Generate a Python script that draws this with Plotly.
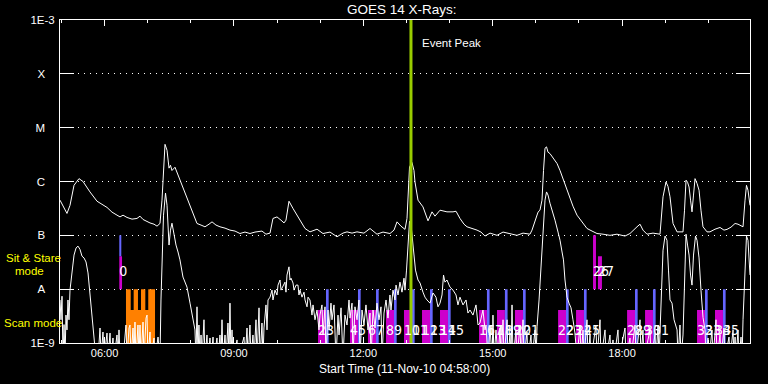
import plotly.graph_objects as go
import pandas as pd

# ---------------- data ----------------
DAY = "2010-11-11 "
START = "2010-11-11 04:58:00"
END = "2010-11-11 20:58:00"
EVENT_PEAK = "2010-11-11 13:06:18"

# long channel (1-8 A), minutes after start time, flux W/m^2
UPPER_MIN = [0, 5.6, 9.7, 13.9, 19.5, 26.4, 32.0, 41.7, 51.5, 65.4, 72.3, 79.3, 83.5, 87.7, 93.2, 100.2,
             107.1, 111.3, 115.5, 125.2, 130.8, 135.0, 139.1, 141.9, 144.0, 146.1, 148.9, 151.7, 153.7,
             155.8, 160.0, 166.9, 173.9, 180.9, 186.4, 190.6, 196.2, 201.7, 207.3, 211.5, 217.0, 222.6,
             229.6, 236.5, 243.5, 250.4, 257.4, 264.3, 271.3, 281.0, 286.6, 292.2, 296.3, 301.9, 307.5,
             311.7, 314.4, 318.6, 324.2, 329.7, 333.9, 340.9, 347.8, 357.6, 365.9, 375.7, 385.4, 393.7,
             399.3, 406.3, 413.2, 422.9, 431.3, 441.0, 449.4, 459.1, 464.7, 468.9, 474.4, 480.0, 482.8,
             484.9, 486.3, 489.7, 492.5, 493.9, 498.1, 505.0, 509.2, 512.0, 517.6, 521.7, 528.7, 538.4,
             546.8, 551.0, 556.5, 562.1, 566.3, 573.2, 580.2, 585.7, 591.3, 598.3, 608.0, 616.4, 626.1,
             635.8, 644.2, 653.9, 656.7, 660.9, 665.1, 667.8, 670.6, 672.7, 674.8, 676.9, 679.0, 681.7,
             685.9, 691.5, 695.7, 699.8, 704.0, 709.6, 713.7, 719.3, 726.3, 733.2, 740.2, 747.1, 755.5,
             765.2, 774.9, 786.1, 793.0, 798.6, 802.8, 807.0, 811.1, 816.7, 825.0, 834.8, 836.9, 839.0,
             843.1, 845.9, 848.7, 850.8, 852.9, 858.5, 866.8, 868.9, 871.0, 873.1, 875.2, 877.3, 879.3,
             881.4, 883.5, 886.3, 889.1, 891.8, 894.6, 900.2, 904.3, 911.3, 918.3, 923.8, 928.0, 933.6,
             939.2, 943.3, 950.3, 953.1, 955.1, 957.2, 958.6, 960.0]
UPPER_FLUX = [4.5e-7, 3.2e-7, 2.55e-7, 3.6e-7, 8.5e-7, 1.13e-6, 1.0e-6, 6.4e-7, 4.3e-7, 3.3e-7, 2.7e-7,
              2.37e-7, 2.2e-7, 2.37e-7, 2.15e-7, 2.0e-7, 2.06e-7, 2.27e-7, 1.97e-7, 1.7e-7, 1.61e-7,
              1.48e-7, 1.66e-7, 4.5e-7, 1.6e-6, 4.9e-6, 3.8e-6, 1.77e-6, 2.0e-6, 1.6e-6, 1.84e-6,
              1.06e-6, 6.1e-7, 3.38e-7, 2.27e-7, 1.66e-7, 1.55e-7, 1.44e-7, 1.61e-7, 1.78e-7, 1.55e-7,
              1.44e-7, 1.36e-7, 1.25e-7, 1.2e-7, 1.08e-7, 1.15e-7, 1.08e-7, 1.15e-7, 1.2e-7, 1.05e-7,
              1.1e-7, 2.06e-7, 2.2e-7, 1.91e-7, 1.7e-7, 1.91e-7, 4.3e-7, 3.15e-7, 2.37e-7, 1.91e-7,
              1.34e-7, 1.16e-7, 1.3e-7, 1.08e-7, 1.15e-7, 0.94e-7, 1.1e-7, 1.16e-7, 1.1e-7, 1.16e-7,
              1.1e-7, 1.34e-7, 1.05e-7, 1.15e-7, 1.08e-7, 1.25e-7, 1.78e-7, 1.48e-7, 1.29e-7, 2.06e-7,
              6.9e-7, 1.86e-6, 2.25e-6, 1.6e-6, 9.8e-7, 4.5e-7, 3.38e-7, 2.47e-7, 1.86e-7, 2.73e-7,
              2.27e-7, 2.93e-7, 2.73e-7, 2.73e-7, 2.8e-7, 2.06e-7, 1.61e-7, 1.44e-7, 1.36e-7, 1.25e-7,
              1.15e-7, 0.97e-7, 1.1e-7, 1.0e-7, 1.15e-7, 1.08e-7, 1.0e-7, 1.1e-7, 1.05e-7, 1.25e-7,
              1.91e-7, 2.7e-7, 2.93e-7, 4.5e-7, 1.6e-6, 4.15e-6, 4.4e-6, 3.5e-6, 3.3e-6, 2.7e-6,
              2.16e-6, 1.6e-6, 1.13e-6, 7.85e-7, 5.2e-7, 3.48e-7, 2.37e-7, 1.76e-7, 1.34e-7, 1.2e-7,
              1.08e-7, 1.05e-7, 1.0e-7, 1.05e-7, 0.97e-7, 1.08e-7, 1.3e-7, 1.44e-7, 1.61e-7, 1.25e-7,
              1.05e-7, 1.1e-7, 1.05e-7, 2.37e-7, 5.2e-7, 9.8e-7, 8.1e-7, 5.2e-7, 2.7e-7, 1.66e-7,
              1.16e-7, 1.16e-7, 2.93e-7, 1.06e-6, 9.7e-7, 7.9e-7, 4.5e-7, 2.73e-7, 5.6e-7, 1.13e-6,
              9.2e-7, 6.9e-7, 2.93e-7, 1.44e-7, 1.16e-7, 1.16e-7, 1.3e-7, 1.4e-7, 1.25e-7, 1.29e-7,
              1.42e-7, 1.66e-7, 1.61e-7, 1.44e-7, 4.5e-7, 8.5e-7, 6.9e-7, 4.5e-7, 3.6e-7]

# short channel (0.5-4 A); 5e-10 = below the plotted floor
LOWER_MIN = [0, 1.4, 2.8, 4.2, 5.6, 7.0, 8.3, 9.7, 11.1, 12.5, 13.9, 16.7, 19.5, 22.3, 25.0, 27.8, 30.6,
             33.4, 36.2, 39.0, 41.7, 44.5, 47.3, 50.1, 52.9, 55.7, 57.1, 59.8, 61.2, 65.4, 66.8, 69.6,
             71.0, 73.7, 75.1, 79.3, 80.7, 82.1, 83.5, 87.7, 91.8, 93.2, 96.0, 97.4, 98.8, 101.6, 103.0,
             104.3, 105.7, 108.5, 109.9, 111.3, 112.7, 115.5, 116.9, 119.7, 121.1, 122.4, 125.2, 126.6,
             130.8, 132.2, 136.4, 137.8, 139.1, 140.5, 141.9, 144.0, 146.8, 148.9, 151.7, 153.7, 155.8,
             158.6, 161.4, 164.2, 166.9, 171.1, 176.7, 180.9, 185.0, 187.8, 189.2, 190.6, 192.0, 193.3,
             194.8, 196.2, 197.6, 200.3, 201.7, 204.5, 205.9, 208.7, 210.1, 212.9, 214.3, 218.4, 219.8,
             222.6, 224.0, 225.4, 226.8, 229.6, 231.0, 233.7, 235.1, 236.5, 237.9, 239.3, 240.7, 246.3,
             247.6, 256.0, 257.4, 260.2, 261.6, 264.3, 265.7, 268.5, 269.9, 272.7, 274.1, 275.5, 276.9,
             278.3, 281.0, 282.4, 283.8, 286.6, 288.0, 289.4, 292.2, 295.0, 296.3, 299.1, 301.9, 303.3,
             306.1, 307.5, 310.3, 313.0, 314.4, 315.8, 318.6, 320.0, 321.4, 324.2, 325.6, 328.4, 331.1,
             332.5, 333.9, 336.7, 339.5, 340.9, 343.7, 345.1, 347.8, 350.6, 352.0, 354.8, 357.6, 360.3,
             361.7, 364.5, 365.9, 368.7, 370.1, 372.9, 374.3, 377.0, 378.4, 381.2, 384.0, 386.8, 388.2,
             391.0, 393.7, 396.5, 399.3, 402.1, 403.5, 406.3, 407.6, 410.4, 413.2, 416.0, 417.4, 420.2,
             422.9, 425.7, 428.5, 431.3, 432.7, 435.5, 438.3, 441.0, 443.8, 446.6, 448.0, 450.8, 453.6,
             456.3, 459.1, 460.5, 463.3, 466.1, 467.5, 470.3, 473.0, 475.8, 478.6, 480.0, 482.1, 484.2,
             486.3, 488.4, 490.4, 492.5, 494.6, 498.1, 500.9, 505.0, 507.8, 510.6, 514.8, 519.0, 523.1,
             525.9, 528.7, 531.5, 533.6, 535.6, 538.4, 542.6, 546.8, 551.0, 553.7, 556.5, 560.7, 564.9,
             567.6, 570.4, 574.6, 578.8, 581.6, 584.3, 588.5, 591.3, 592.7, 595.5, 598.3, 601.1, 602.4,
             603.8, 606.6, 609.4, 612.2, 613.6, 616.4, 617.8, 622.0, 623.3, 626.1, 627.5, 628.9, 630.3,
             634.4, 635.8, 640.0, 641.4, 644.2, 645.6, 649.7, 651.1, 655.3, 656.7, 660.9, 662.3, 663.7,
             666.5, 669.2, 672.0, 674.8, 676.9, 679.0, 681.7, 685.9, 688.7, 692.9, 695.7, 698.5, 700.5,
             702.6, 705.4, 708.2, 711.0, 713.7, 716.5, 719.3, 723.5, 724.9, 727.7, 729.0, 733.2, 734.6,
             737.4, 738.8, 745.7, 747.1, 751.3, 752.7, 758.3, 759.7, 765.2, 766.6, 769.4, 770.8, 776.3,
             777.7, 786.1, 787.5, 793.0, 794.4, 800.0, 801.4, 807.0, 808.3, 811.1, 812.5, 820.9, 822.3,
             827.8, 829.2, 832.0, 833.4, 834.8, 836.9, 839.0, 841.8, 844.5, 846.6, 848.7, 851.5, 854.3,
             858.5, 859.9, 862.6, 864.0, 866.8, 868.9, 871.0, 873.1, 875.2, 877.3, 879.3, 881.4, 884.2,
             886.3, 889.1, 891.8, 894.6, 897.4, 898.8, 901.6, 903.0, 907.1, 908.5, 912.7, 914.1, 918.3,
             919.7, 923.8, 925.2, 930.8, 932.2, 936.4, 937.8, 939.2, 940.6, 943.3, 944.7, 947.5, 948.9,
             950.3, 953.1, 955.1, 957.2, 958.6, 960.0]
LOWER_FLUX = [6.3e-9, 2.7e-9, 7.4e-9, 5e-10, 2.2e-9, 5e-10, 3.3e-9, 1.75e-9, 6.3e-9, 2.7e-9, 9.6e-9,
              2.26e-8, 4.3e-8, 5.8e-8, 6.3e-8, 5.5e-8, 4.1e-8, 3.8e-8, 3.2e-8, 2.0e-8, 8.5e-9, 4.1e-9,
              1.75e-9, 5e-10, 5e-10, 1.9e-9, 5e-10, 1.6e-9, 5e-10, 1.53e-9, 5e-10, 1.53e-9, 5e-10,
              1.24e-9, 5e-10, 1.41e-9, 5e-10, 1.75e-9, 5e-10, 5e-10, 2.16e-9, 5e-10, 1.9e-9, 2.16e-9,
              5e-10, 1.9e-9, 5e-10, 2.45e-9, 5e-10, 2.16e-9, 5e-10, 2.16e-9, 5e-10, 2.45e-9, 5e-10,
              2.9e-9, 3.3e-9, 5e-10, 1.6e-9, 5e-10, 1.24e-9, 5e-10, 1.29e-9, 5e-10, 5e-10, 6.3e-9,
              3.5e-8, 2.37e-7, 6.1e-7, 3.63e-7, 6.6e-8, 1.25e-7, 1.68e-7, 1.0e-7, 6.6e-8, 4.9e-8,
              3.5e-8, 1.68e-8, 1.09e-8, 5.5e-9, 2.9e-9, 1.75e-9, 5e-10, 4.7e-9, 5e-10, 2.16e-9, 5e-10,
              1.41e-9, 5e-10, 2.7e-9, 5e-10, 1.41e-9, 5e-10, 1.24e-9, 5e-10, 1.29e-9, 5e-10, 1.24e-9,
              5e-10, 1.41e-9, 5e-10, 2.7e-9, 5e-10, 1.41e-9, 5e-10, 2.35e-9, 5e-10, 5.5e-9, 5e-10,
              1.75e-9, 5e-10, 1.14e-9, 5e-10, 1.29e-9, 5e-10, 1.9e-9, 5e-10, 2.16e-9, 5e-10, 1.41e-9,
              5e-10, 2.7e-9, 5e-10, 2.16e-9, 4.5e-9, 5e-10, 2.35e-9, 5e-10, 1.9e-9, 5.1e-9, 1.75e-9,
              6.3e-9, 7.1e-9, 9.6e-9, 6.3e-9, 9.6e-9, 7.8e-9, 1.19e-8, 1.48e-8, 9.6e-9, 1.19e-8,
              1.35e-8, 8.8e-9, 1.83e-8, 2.6e-8, 1.48e-8, 1.6e-8, 1.3e-8, 9.6e-9, 1.19e-8, 1.19e-8,
              7.8e-9, 9.6e-9, 7.1e-9, 8.8e-9, 6.3e-9, 4.7e-9, 7.1e-9, 6.3e-9, 3.3e-9, 5.1e-9, 2.7e-9,
              4.1e-9, 1.75e-9, 3.3e-9, 5.1e-9, 1.41e-9, 4.7e-9, 5e-10, 4.1e-9, 1.75e-9, 5.5e-9, 2.7e-9,
              5.1e-9, 5e-10, 3.3e-9, 1.41e-9, 4.5e-9, 5e-10, 3.3e-9, 2.16e-9, 6.3e-9, 2.9e-9, 5.5e-9,
              5e-10, 4.7e-9, 2.7e-9, 6.3e-9, 5e-10, 4.1e-9, 2.16e-9, 5.1e-9, 1.75e-9, 3.6e-9, 5e-10,
              4.1e-9, 1.9e-9, 5.5e-9, 2.7e-9, 4.7e-9, 5e-10, 3.6e-9, 6.3e-9, 2.9e-9, 7.8e-9, 4.1e-9,
              9.6e-9, 6.3e-9, 1.19e-8, 7.8e-9, 1.35e-8, 8.8e-9, 1.6e-8, 9.6e-9, 2.26e-8, 6.6e-8,
              1.83e-7, 1.55e-7, 8.1e-8, 3.8e-8, 2.26e-8, 1.48e-8, 1.3e-8, 8.8e-9, 7.1e-9, 6.3e-9,
              5.5e-9, 8.5e-9, 7.1e-9, 4.7e-9, 5.5e-9, 7.8e-9, 1.83e-8, 1.35e-8, 1.48e-8, 1.09e-8,
              9.6e-9, 7.8e-9, 5.1e-9, 7.1e-9, 5.1e-9, 6.3e-9, 3.6e-9, 4.1e-9, 3.3e-9, 5.1e-9, 2.16e-9,
              2.35e-9, 4.1e-9, 1.75e-9, 2.16e-9, 5e-10, 2.0e-9, 5e-10, 3.3e-9, 5e-10, 1.75e-9, 5e-10,
              1.9e-9, 5e-10, 2.7e-9, 5e-10, 2.7e-9, 5e-10, 1.53e-9, 5e-10, 5.1e-9, 5e-10, 1.75e-9,
              5e-10, 2.16e-9, 5e-10, 2.7e-9, 5e-10, 1.6e-9, 5e-10, 1.41e-9, 5e-10, 1.75e-9, 5e-10,
              2.0e-9, 6.3e-9, 2.26e-8, 1.0e-7, 4.5e-7, 6.4e-7, 5.6e-7, 3.95e-7, 2.7e-7, 1.91e-7,
              1.15e-7, 8.1e-8, 4.9e-8, 3.5e-8, 1.48e-8, 7.1e-9, 5.5e-9, 4.5e-9, 2.7e-9, 1.53e-9, 5e-10,
              2.16e-9, 5e-10, 1.75e-9, 5e-10, 2.7e-9, 5e-10, 1.41e-9, 5e-10, 2.16e-9, 5e-10, 2.7e-9,
              5e-10, 1.75e-9, 5e-10, 1.41e-9, 5e-10, 1.14e-9, 5e-10, 1.75e-9, 5e-10, 1.9e-9, 5e-10,
              1.24e-9, 5e-10, 2.16e-9, 5e-10, 2.7e-9, 5e-10, 1.75e-9, 5e-10, 1.75e-9, 5e-10, 1.41e-9,
              5e-10, 2.16e-9, 5e-10, 1.75e-9, 6.3e-9, 5.3e-8, 9.7e-8, 8.1e-8, 2.26e-8, 6.3e-9, 5.5e-9,
              2.7e-9, 1.75e-9, 5e-10, 2.16e-9, 5e-10, 1.41e-9, 1.48e-8, 1.05e-7, 6.6e-8, 4.3e-8,
              1.83e-8, 1.19e-8, 4.3e-8, 9.7e-8, 8.1e-8, 3.8e-8, 9.6e-9, 3.0e-9, 1.75e-9, 5e-10,
              1.24e-9, 5e-10, 1.75e-9, 5e-10, 2.7e-9, 5e-10, 1.41e-9, 5e-10, 1.9e-9, 5e-10, 1.29e-9,
              5e-10, 1.75e-9, 5e-10, 1.29e-9, 5e-10, 1.75e-9, 5e-10, 1.29e-9, 5e-10, 2.7e-9, 2.26e-8,
              9.7e-8, 8.1e-8, 3.5e-8, 1.83e-8]

# scan-mode segments (magenta) and following calibrations (blue)
SCAN_START = ["10:57:00", "11:41:30", "12:06:30", "12:31:36", "12:56:36", "13:21:42", "13:46:42",
              "14:41:00", "15:06:00", "15:31:00", "16:31:00", "16:56:00", "18:07:00", "18:32:00",
              "19:44:18", "20:09:18"]
CAL_START = ["11:08:06", "11:52:36", "12:17:42", "12:42:42", "13:07:42", "13:32:48", "13:57:48",
             "14:52:00", "15:17:00", "15:42:12", "16:42:00", "17:07:00", "18:18:00", "18:43:00",
             "19:55:24", "20:20:24"]
CAL_END = ["11:11:48", "11:56:18", "12:21:24", "12:46:24", "13:11:24", "13:36:30", "14:01:30",
           "14:55:42", "15:20:42", "15:45:54", "16:45:42", "17:10:42", "18:21:42", "18:46:42",
           "19:59:06", "20:24:06"]
SCAN_NUM = ["2", "4", "6", "8", "10", "12", "14", "16", "18", "20", "22", "24", "28", "30", "32", "34"]
CAL_NUM = ["3", "5", "7", "9", "11", "13", "15", "17", "19", "21", "23", "25", "29", "31", "33", "35"]

# sit & stare segments
SS_START = ["06:20:30", "17:19:36", "17:26:30"]
SS_END = ["06:24:18", "17:23:42", "17:32:00"]
SS_TOP = [4.07e-8, 1.0e-7, 4.07e-8]
SS_NUM = ["0", "26", "27"]
SS_POINT_START = ["06:20:30"]
SS_POINT_END = ["06:23:18"]

# orange scan block
ORANGE_START = ["06:29:48"]
ORANGE_END = ["07:10:12"]
PRONG_START = ["06:29:48", "06:40:30", "06:50:42", "07:00:48"]
PRONG_END = ["06:36:24", "06:46:30", "06:56:42", "07:10:12"]

FLOOR, A_LEVEL, B_LEVEL, SCAN_TOP, MID_LEVEL = 1e-9, 1e-8, 1e-7, 4.1e-9, 4.07e-8
SS_LABEL_LEVEL, SCAN_LABEL_LEVEL = 2.0e-8, 1.67e-9

Y_TICKS = [1e-9, 1e-8, 1e-7, 1e-6, 1e-5, 1e-4, 1e-3]
NB = "\u00a0"
Y_TEXT = ["1E-9", "A" + NB * 3, "B" + NB * 3, "C" + NB * 3, "M" + NB * 3, "X" + NB * 3, "1E-3"]
X_TICKS = ["06:00", "09:00", "12:00", "15:00", "18:00"]

# ---------------- build ----------------
start_ts = pd.Timestamp(START)
def mins(lst):
    return [start_ts + pd.Timedelta(minutes=m) for m in lst]

def tt(s):
    return DAY + s

def rects(starts, ends, lo, hi):
    xs, ys = [], []
    if not isinstance(lo, list):
        lo = [lo] * len(starts)
    if not isinstance(hi, list):
        hi = [hi] * len(starts)
    for s, e, l, h in zip(starts, ends, lo, hi):
        xs += [tt(s), tt(e), tt(e), tt(s), tt(s), None]
        ys += [l, l, h, h, l, None]
    return xs, ys

MAGENTA = "rgb(204,0,204)"
BLUE = "rgb(102,102,255)"
ORANGE = "rgb(255,128,0)"
PEAK = "rgb(153,204,0)"
YELLOW = "rgb(255,255,0)"
FONT = "Liberation Sans, Arial, sans-serif"
NUMFONT = "Liberation Sans Narrow, DejaVu Sans Condensed, Liberation Sans, sans-serif"

fig = go.Figure()

def add_fill(xs, ys, color):
    fig.add_trace(go.Scatter(x=xs, y=ys, mode="lines", fill="toself", fillcolor=color,
                             line=dict(width=0, color=color), hoverinfo="skip"))

ox, oy = rects(ORANGE_START, ORANGE_END, FLOOR, SCAN_TOP)
px_, py_ = rects(PRONG_START, PRONG_END, SCAN_TOP, A_LEVEL)
add_fill(ox + px_, oy + py_, ORANGE)

mx, my = rects(SCAN_START, CAL_START, FLOOR, SCAN_TOP)
sx, sy = rects(SS_START, SS_END, A_LEVEL, SS_TOP)
add_fill(mx + sx, my + sy, MAGENTA)

bx, by = rects(CAL_START, CAL_END, FLOOR, A_LEVEL)
qx, qy = rects(SS_POINT_START, SS_POINT_END, MID_LEVEL, B_LEVEL)
add_fill(bx + qx, by + qy, BLUE)

fig.add_trace(go.Scatter(x=mins(UPPER_MIN), y=UPPER_FLUX, mode="lines",
                         line=dict(color="white", width=1), hoverinfo="skip"))
fig.add_trace(go.Scatter(x=mins(LOWER_MIN), y=LOWER_FLUX, mode="lines",
                         line=dict(color="white", width=1), hoverinfo="skip"))

fig.add_trace(go.Scatter(x=[EVENT_PEAK, EVENT_PEAK], y=[FLOOR, 1e-3], mode="lines",
                         line=dict(color=PEAK, width=3), hoverinfo="skip"))

lab_x = [tt(s) for s in SCAN_START + CAL_START]
lab_t = SCAN_NUM + CAL_NUM
fig.add_trace(go.Scatter(x=lab_x, y=[SCAN_LABEL_LEVEL] * len(lab_x), mode="text", text=lab_t,
                         textposition="middle right", cliponaxis=False,
                         textfont=dict(color="white", size=14, family=NUMFONT), hoverinfo="skip"))
fig.add_trace(go.Scatter(x=[tt(s) for s in SS_START], y=[SS_LABEL_LEVEL] * len(SS_START), mode="text",
                         text=SS_NUM, textposition="middle right", cliponaxis=False,
                         textfont=dict(color="white", size=14, family=NUMFONT), hoverinfo="skip"))

fig.update_layout(
    width=768, height=384, margin=dict(l=60, r=18, t=20, b=41),
    paper_bgcolor="black", plot_bgcolor="black", showlegend=False,
    font=dict(family=FONT, color="white", size=11),
)
fig.update_xaxes(
    type="date", range=[START, END], showline=True, linecolor="white", linewidth=1,
    mirror="ticks", ticks="inside", ticklen=6, tickcolor="white", tickwidth=1,
    tickvals=[tt(v) for v in X_TICKS], ticktext=X_TICKS, showgrid=False, zeroline=False,
    tickfont=dict(family=FONT, size=11, color="white"),
    minor=dict(ticks="inside", ticklen=3, tickcolor="white", tickwidth=1,
               tick0=tt("06:00"), dtick=3600000, showgrid=False),
)
fig.update_yaxes(
    type="log", range=[-9, -3], showline=True, linecolor="white", linewidth=1,
    mirror="ticks", ticks="inside", ticklen=14, tickcolor="white", tickwidth=1,
    tickvals=Y_TICKS, ticktext=Y_TEXT, showgrid=True, gridcolor="white", gridwidth=1,
    griddash="1px,5px", zeroline=False, tickfont=dict(family=FONT, size=11.5, color="white"),
    ticklabelstandoff=2,
)

fig.add_annotation(text="GOES 14 X-Rays:", xref="paper", yref="paper", x=0.4957, y=1.0325,
                   showarrow=False, xanchor="center", yanchor="middle",
                   font=dict(family=FONT, size=13.5, color="white"))
fig.add_annotation(text="Start Time (11-Nov-10 04:58:00)", xref="paper", yref="paper",
                   x=0.4996, y=-0.0805, showarrow=False, xanchor="center", yanchor="middle",
                   font=dict(family=FONT, size=12, color="white"))
fig.add_annotation(text="Event Peak", xref="x", yref="paper", x=EVENT_PEAK, y=0.929, xshift=9,
                   showarrow=False, xanchor="left", yanchor="middle",
                   font=dict(family=FONT, size=11.5, color="white"))
fig.add_annotation(text="Sit & Stare", xref="paper", yref="paper", x=-0.0812, y=0.263,
                   showarrow=False, xanchor="left", yanchor="middle",
                   font=dict(family=FONT, size=11.5, color=YELLOW))
fig.add_annotation(text="mode", xref="paper", yref="paper", x=-0.0681, y=0.223,
                   showarrow=False, xanchor="left", yanchor="middle",
                   font=dict(family=FONT, size=11.5, color=YELLOW))
fig.add_annotation(text="Scan mode", xref="paper", yref="paper", x=-0.084, y=0.062,
                   showarrow=False, xanchor="left", yanchor="middle",
                   font=dict(family=FONT, size=11.5, color=YELLOW))

fig.write_html("out.html")
